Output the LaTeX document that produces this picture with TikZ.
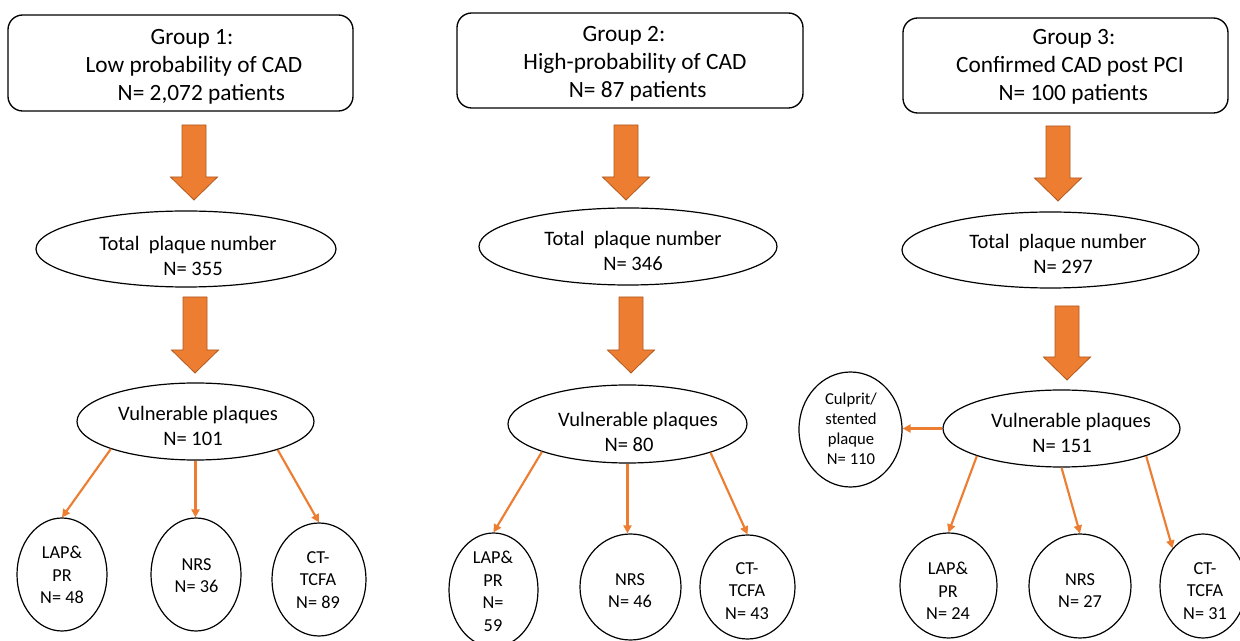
\documentclass[tikz,border=0pt]{standalone}
\usepackage{fontspec}
\setmainfont{Carlito}
\usetikzlibrary{arrows.meta,shapes.geometric}
\definecolor{accent}{HTML}{ED7D31}
\definecolor{accentdark}{HTML}{B0591F}

\tikzset{
  groupbox/.style={draw=black, line width=1pt, rounded corners=11pt, inner sep=0pt},
  oval/.style={draw=black, line width=0.9pt, ellipse, inner sep=0pt},
  boxtext/.style={align=center, inner sep=0pt, font=\fontsize{17.5}{21}\selectfont},
  midtext/.style={align=center, inner sep=0pt, font=\fontsize{15.4}{18.75}\selectfont},
  leaftext/.style={align=center, inner sep=0pt, font=\fontsize{13.7}{16.9}\selectfont},
  tinytext/.style={align=center, inner sep=0pt, font=\fontsize{12.5}{15}\selectfont},
  blockarrow/.style={fill=accent, draw=accentdark, line width=0.6pt, line join=miter},
  branch/.style={draw=accent, line width=1.6pt, -{Triangle[length=6pt,width=6pt]}},
  pics/downarrow/.style={code={
    \path[blockarrow] (-12,0) -- (12,0) -- (12,{#1-23}) -- (23.5,{#1-23})
      -- (0,#1) -- (-23.5,{#1-23}) -- (-12,{#1-23}) -- cycle;
  }}
}

\begin{document}
\begin{tikzpicture}[x=0.75pt,y=-0.75pt]
\useasboundingbox (0,0) rectangle (1240,641);
\clip (0,0) rectangle (1240,641);

% ---- group headers
\node[groupbox, minimum width=258.75pt, minimum height=72pt]   (b1) at (180.5,63) {};
\node[groupbox, minimum width=259.5pt,  minimum height=71.25pt] (b2) at (630,60.5) {};
\node[groupbox, minimum width=243.75pt, minimum height=71.25pt] (b3) at (1065.5,65.5) {};
\node[boxtext] (b1t) at (194,67) {Group 1:\hspace*{3pt}\\Low probability of CAD\\\hspace*{11pt}N= 2,072 patients};
\node[boxtext] (b2t) at (635,64) {Group 2:\hspace*{16.5pt}\\High-probability of CAD\\\hspace*{4pt}N= 87 patients};
\node[boxtext] (b3t) at (1070,67) {\hspace*{6pt}Group 3:\\Confirmed CAD post PCI\\\hspace*{5pt}N= 100 patients};

% ---- total plaque counts
\node[oval, minimum width=225pt,   minimum height=57pt]    (t1) at (186,249) {};
\node[oval, minimum width=223.5pt, minimum height=57.75pt] (t2) at (628,246.5) {};
\node[oval, minimum width=222.75pt,minimum height=57pt]    (t3) at (1050.5,250) {};
\node[midtext] (t1t) at (188,255.5) {Total\ \ plaque number\\\hspace*{7.5pt}N= 355};
\node[midtext] (t2t) at (633,250.5) {Total\ \ plaque number\\N= 346};
\node[midtext] (t3t) at (1058,254) {Total\ \ plaque number\\\hspace*{7.5pt}N= 297};

% ---- vulnerable plaques
\node[oval, minimum width=177.75pt, minimum height=57.75pt] (v1) at (195.5,421.5) {};
\node[oval, minimum width=179.25pt, minimum height=58.5pt]  (v2) at (627.5,424) {};
\node[oval, minimum width=177.75pt, minimum height=57.75pt] (v3) at (1061.5,428.5) {};
\node[midtext] (v1t) at (198,426) {Vulnerable plaques\\N= 101\hspace*{7.5pt}};
\node[midtext] (v2t) at (638,432) {Vulnerable plaques\\N= 80\hspace*{13.5pt}};
\node[midtext] (v3t) at (1071,433) {Vulnerable plaques\\N= 151\hspace*{13.5pt}};

% ---- plaque subtypes
\node[oval, minimum width=67.5pt,  minimum height=84.75pt] (l1) at (62,574.5) {};
\node[oval, minimum width=67.5pt,  minimum height=84.75pt] (n1) at (196,574.5) {};
\node[oval, minimum width=70.5pt,  minimum height=84.75pt] (c1) at (319,579.5) {};
\node[oval, minimum width=66.75pt, minimum height=85.5pt]  (l2) at (493.5,590) {};
\node[oval, minimum width=75.75pt, minimum height=79.5pt]  (n2) at (630.5,587) {};
\node[oval, minimum width=71.25pt, minimum height=78pt]    (c2) at (747.5,587) {};
\node[oval, minimum width=72.75pt, minimum height=78.75pt] (l3) at (948.5,585.5) {};
\node[oval, minimum width=76.5pt,  minimum height=78pt]    (n3) at (1080,586) {};
\node[oval, minimum width=64.5pt,  minimum height=78pt]    (c3) at (1203,586) {};
\node[oval, minimum width=77.25pt, minimum height=86.25pt] (cu) at (850.5,429.5) {};

\node[leaftext] (l1t) at (62,575)   {LAP\&\\PR\\N= 48};
\node[leaftext] (n1t) at (196.5,575.5) {NRS\\N= 36};
\node[leaftext] (c1t) at (318,580)  {CT-\\TCFA\\N= 89};
\node[leaftext] (l2t) at (493,591.5) {LAP\&\\PR\\N=\\59};
\node[leaftext] (n2t) at (630,590.5) {NRS\\N= 46};
\node[leaftext] (c2t) at (747,591)  {CT-\\TCFA\\N= 43};
\node[leaftext] (l3t) at (948,591)  {LAP\&\\PR\\N= 24};
\node[leaftext] (n3t) at (1080,590.5) {NRS\\N= 27};
\node[leaftext] (c3t) at (1205,591) {CT-\\TCFA\\N= 31};
\node[tinytext] (cut) at (851,429)  {Culprit/\\stented\\plaque\\N= 110};

% ---- block arrows between levels
\pic at (194,125)  {downarrow=75};
\pic at (195,297)  {downarrow=76};
\pic at (626,125)  {downarrow=75};
\pic at (631,297)  {downarrow=76};
\pic at (1058,126) {downarrow=75};
\pic at (1067,306) {downarrow=74};

% ---- branches to subtypes
\draw[branch] (v1.198.4) -- (l1.north);
\draw[branch] (v1.south) -- (v1.south |- n1.north);
\draw[branch] (v1.341.2) -- (c1.north);
\draw[branch] (v2.198.5) -- (l2.north);
\draw[branch] (v2.south) -- (v2.south |- n2.north);
\draw[branch] (v2.341.3) -- (c2.north);
\draw[branch] (v3.198.8) -- (l3.north);
\draw[branch] (v3.south) -- (n3.north);
\draw[branch] (v3.342) -- (c3.129);
\draw[branch] (v3.west) -- (v3.west -| cu.east);
\end{tikzpicture}
\end{document}
